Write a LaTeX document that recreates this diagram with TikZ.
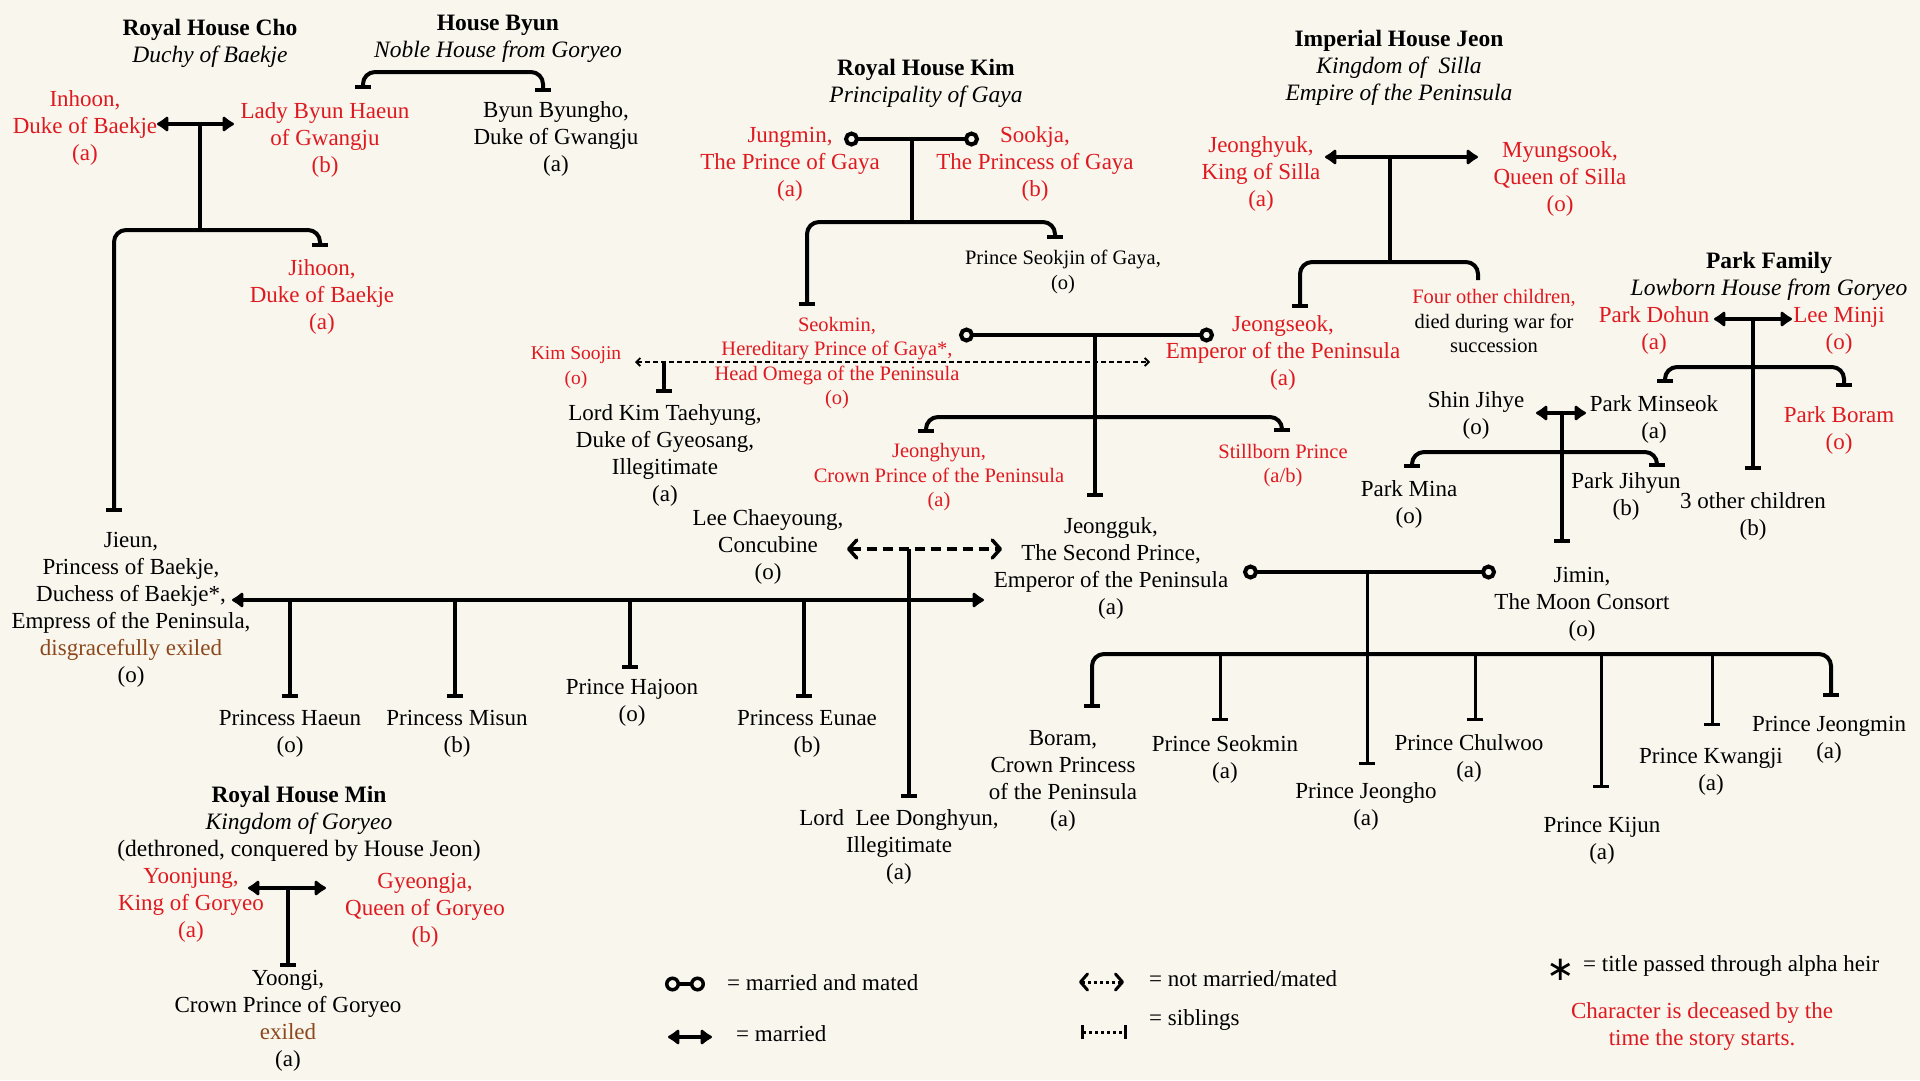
\documentclass[tikz,border=0pt]{standalone}
\usepackage{fontspec}
\setmainfont{Liberation Serif}
\newfontfamily\symfont{DejaVu Sans}
\usepackage{xcolor}
\usetikzlibrary{arrows.meta}

\definecolor{paper}{RGB}{249,246,238}
\definecolor{deadred}{RGB}{222,26,32}
\definecolor{exile}{RGB}{140,72,28}

\tikzset{
	link/.style={line width=4pt, rounded corners=12pt},
	child/.style={link, -{Bar[width=16pt]}},
	kids/.style={link, {Bar[width=16pt]}-{Bar[width=16pt]}},
	married/.style={link, {Latex[round,length=13pt,width=19pt]}-{Latex[round,length=13pt,width=19pt]}},
	mated/.style={link, {Circle[open,length=15pt,width=15pt,fill=paper]}-{Circle[open,length=15pt,width=15pt,fill=paper]}},
	affair/.style={line width=3.5pt, dash pattern=on 10pt off 6pt, {Straight Barb[round,length=8pt,width=18pt]}-{Straight Barb[round,length=8pt,width=18pt]}},
	rumour/.style={line width=1.8pt, dash pattern=on 5pt off 3pt, {Straight Barb[length=4pt,width=8pt]}-{Straight Barb[length=4pt,width=8pt]}},
	person/.style={align=center, inner sep=0pt, font=\fontsize{23}{27}\selectfont},
	dead/.style={person, text=deadred},
	small/.style={font=\fontsize{20.5}{24.5}\selectfont},
	house/.style={align=center, inner sep=0pt, font=\fontsize{23.5}{27}\selectfont},
	note/.style={anchor=west, inner sep=0pt, font=\fontsize{23}{27}\selectfont}
}

\begin{document}
\begin{tikzpicture}[x=1pt, y=-1pt] % family tree of the houses
	
	\useasboundingbox (0,0) rectangle (1920,1080);
	\fill[paper] (0,0) rectangle (1920,1080);
	
	%houses
	\node[house] (hCho) at (210,43.5) {\textbf{Royal House Cho}\\\textit{Duchy of Baekje}};
	\node[house] (hByun) at (498,38.5) {\textbf{House Byun}\\\textit{Noble House from Goryeo}};
	\node[house] (hKim) at (926,83.5) {\textbf{Royal House Kim}\\\textit{Principality of Gaya}};
	\node[house] (hJeon) at (1399,68) {\textbf{Imperial House Jeon}\\\textit{Kingdom of\ \ Silla}\\\textit{Empire of the Peninsula}};
	\node[house] (hPark) at (1769,276) {\textbf{Park Family}\\\textit{Lowborn House from Goryeo}};
	\node[house] (hMin) at (299,823.5) {\textbf{Royal House Min}\\\textit{Kingdom of Goryeo}\\(dethroned, conquered by House Jeon)};
	
	%people
	\node[dead] (inhoon) at (85,127.5) {Inhoon,\\Duke of Baekje\\(a)};
	\node[dead] (haeun) at (325,139.5) {Lady Byun Haeun\\of Gwangju\\(b)};
	\node[person] (byungho) at (556,138.5) {Byun Byungho,\\Duke of Gwangju\\(a)};
	\node[dead] (jihoon) at (322,296.5) {Jihoon,\\Duke of Baekje\\(a)};
	\node[person] (jieun) at (131,610) {Jieun,\\Princess of Baekje,\\Duchess of Baekje*,\\Empress of the Peninsula,\\{\color{exile}disgracefully exiled}\\(o)};
	
	\node[dead] (jungmin) at (790,164) {Jungmin,\\The Prince of Gaya\\(a)};
	\node[dead] (sookja) at (1035,163.5) {Sookja,\\The Princess of Gaya\\(b)};
	\node[person, small] (seokjin) at (1063,272) {Prince Seokjin of Gaya,\\(o)};
	\node[dead, small] (seokmin) at (837,363) {Seokmin,\\Hereditary Prince of Gaya*,\\Head Omega of the Peninsula\\(o)};
	
	\node[dead] (jeonghyuk) at (1261,173.5) {Jeonghyuk,\\King of Silla\\(a)};
	\node[dead] (myungsook) at (1560,179) {Myungsook,\\Queen of Silla\\(o)};
	\node[person, small] (fourother) at (1494,321) {{\color{deadred}Four other children,}\\died during war for\\succession};
	\node[dead] (jeongseok) at (1283,353) {Jeongseok,\\Emperor of the Peninsula\\(a)};
	
	\node[dead, font=\fontsize{19.5}{25}\selectfont] (soojin) at (576,367.5) {Kim Soojin\\(o)};
	\node[person] (taehyung) at (665,455) {Lord Kim Taehyung,\\Duke of Gyeosang,\\Illegitimate\\(a)};
	\node[dead, small] (jeonghyun) at (939,477.5) {Jeonghyun,\\Crown Prince of the Peninsula\\(a)};
	\node[dead, small] (stillborn) at (1283,465.5) {Stillborn Prince\\(a/b)};
	\node[person] (chaeyoung) at (768,547) {Lee Chaeyoung,\\Concubine\\(o)};
	\node[person] (jeongguk) at (1111,568) {Jeongguk,\\The Second Prince,\\Emperor of the Peninsula\\(a)};
	
	\node[person] (haeunP) at (290,734) {Princess Haeun\\(o)};
	\node[person] (misun) at (457,734) {Princess Misun\\(b)};
	\node[person] (hajoon) at (632,703) {Prince Hajoon\\(o)};
	\node[person] (eunae) at (807,734) {Princess Eunae\\(b)};
	\node[person] (donghyun) at (899,846.5) {Lord\ \ Lee Donghyun,\\Illegitimate\\(a)};
	
	\node[dead] (dohun) at (1654,330.5) {Park Dohun\\(a)};
	\node[dead] (minji) at (1839,330.5) {Lee Minji\\(o)};
	\node[person] (minseok) at (1654,419) {Park Minseok\\(a)};
	\node[dead] (boram) at (1839,430) {Park Boram\\(o)};
	\node[person] (others) at (1753,516) {3 other children\\(b)};
	\node[person] (jihye) at (1476,415) {Shin Jihye\\(o)};
	\node[person] (mina) at (1409,504.5) {Park Mina\\(o)};
	\node[person] (jihyun) at (1626,496) {Park Jihyun\\(b)};
	\node[person] (jimin) at (1582,604.5) {Jimin,\\The Moon Consort\\(o)};
	
	\node[person] (boramP) at (1063,781) {Boram,\\Crown Princess\\of the Peninsula\\(a)};
	\node[person] (seokminP) at (1225,759) {Prince Seokmin\\(a)};
	\node[person] (jeongho) at (1366,806) {Prince Jeongho\\(a)};
	\node[person] (chulwoo) at (1469,758) {Prince Chulwoo\\(a)};
	\node[person] (kijun) at (1602,840.5) {Prince Kijun\\(a)};
	\node[person] (kwangji) at (1711,772) {Prince Kwangji\\(a)};
	\node[person] (jeongmin) at (1829,739.5) {Prince Jeongmin\\(a)};
	
	\node[dead] (yoonjung) at (191,905) {Yoonjung,\\King of Goryeo\\(a)};
	\node[dead] (gyeongja) at (425,910.5) {Gyeongja,\\Queen of Goryeo\\(b)};
	\node[person] (yoongi) at (288,1021) {Yoongi,\\Crown Prince of Goryeo\\{\color{exile}exiled}\\(a)};
	
	%connector points
	\coordinate (inhoonR) at (157,124);
	\coordinate (haeunL) at (234,124);
	\coordinate (choM) at (200,124);
	\coordinate (choK) at (200,230);
	\coordinate (tjieun) at (114,512);
	\coordinate (tjihoon) at (320,247);
	
	\coordinate (thaeun) at (363,89);
	\coordinate (tbyungho) at (543,92);
	
	\coordinate (jungminR) at (844,139);
	\coordinate (sookjaL) at (979,139);
	\coordinate (gayaM) at (912,139);
	\coordinate (gayaK) at (912,222);
	\coordinate (tseokmin) at (807,306);
	\coordinate (tseokjin) at (1055,239);
	
	\coordinate (jeonghyukR) at (1325,157);
	\coordinate (myungsookL) at (1478,157);
	\coordinate (sillaM) at (1390,157);
	\coordinate (sillaK) at (1390,262);
	\coordinate (tjeongseok) at (1300,308);
	\coordinate (tfour) at (1478,280);
	
	\coordinate (seokminR) at (959,335);
	\coordinate (jeongseokL) at (1214,335);
	\coordinate (empM) at (1095,335);
	\coordinate (empK) at (1095,417);
	\coordinate (tjeongguk) at (1095,497);
	\coordinate (tjeonghyun) at (926,433);
	\coordinate (tstillborn) at (1282,432);
	
	\coordinate (soojinR) at (635,362);
	\coordinate (jeongseokW) at (1150,362);
	\coordinate (soojinM) at (664,362);
	\coordinate (ttaehyung) at (664,393);
	
	\coordinate (jieunR) at (232,600);
	\coordinate (jeonggukL) at (984,600);
	
	\coordinate (chaeyoungR) at (847,549);
	\coordinate (jeonggukW) at (1002,549);
	\coordinate (chaeM) at (909,549);
	\coordinate (tdonghyun) at (909,798);
	
	\coordinate (jeonggukR) at (1243,572);
	\coordinate (jiminL) at (1496,572);
	\coordinate (moonM) at (1367,572);
	\coordinate (moonK) at (1367,654);
	\coordinate (tjeongho) at (1367,765);
	\coordinate (tboramP) at (1092,708);
	\coordinate (tjeongmin) at (1831,697);
	
	\coordinate (dohunR) at (1714,319);
	\coordinate (minjiL) at (1792,319);
	\coordinate (parkM) at (1753,319);
	\coordinate (parkK) at (1753,367);
	\coordinate (tothers) at (1753,470);
	\coordinate (tminseok) at (1665,383);
	\coordinate (tboram) at (1844,387);
	
	\coordinate (jihyeR) at (1536,413);
	\coordinate (minseokL) at (1586,413);
	\coordinate (shinM) at (1562,413);
	\coordinate (shinK) at (1562,452);
	\coordinate (tjimin) at (1562,543);
	\coordinate (tmina) at (1412,468);
	\coordinate (tjihyun) at (1657,467);
	
	\coordinate (yoonjungR) at (248,888);
	\coordinate (gyeongjaL) at (326,888);
	\coordinate (minM) at (288,888);
	\coordinate (tyoongi) at (288,967);
	
	%connectors
	\draw[married] (inhoonR) -- (haeunL);
	\draw[link] (choM) -- (choK);
	\draw[kids] (tjieun) |- (choK) -| (tjihoon);
	
	\draw[kids] (thaeun) -- ++(0,-17) -| (tbyungho);
	
	\draw[mated] (jungminR) -- (sookjaL);
	\draw[link] (gayaM) -- (gayaK);
	\draw[kids] (tseokmin) |- (gayaK) -| (tseokjin);
	
	\draw[married] (jeonghyukR) -- (myungsookL);
	\draw[link] (sillaM) -- (sillaK);
	\draw[link, {Bar[width=16pt]}-] (tjeongseok) |- (sillaK) -| (tfour);
	
	\draw[mated] (seokminR) -- (jeongseokL);
	\draw[child] (empM) -- (tjeongguk);
	\draw[kids] (tjeonghyun) |- (empK) -| (tstillborn);
	
	\draw[rumour] (soojinR) -- (jeongseokW);
	\draw[child] (soojinM) -- (ttaehyung);
	
	\draw[married] (jieunR) -- (jeonggukL);
	\foreach \n/\x/\y in {haeunP/290/698, misun/455/698, hajoon/630/669, eunae/804/698}{
		\coordinate (t\n) at (\x,\y);
		\draw[child] (jieunR -| t\n) -- (t\n);
	}
	
	\draw[affair] (chaeyoungR) -- (jeonggukW);
	\draw[child] (chaeM) -- (tdonghyun);
	
	\draw[mated] (jeonggukR) -- (jiminL);
	\draw[child, line width=3pt] (moonM) -- (tjeongho);
	\draw[kids] (tboramP) |- (moonK) -| (tjeongmin);
	\foreach \n/\x/\y in {seokminP/1220/721, chulwoo/1475/721, kijun/1601/788, kwangji/1712/726}{
		\coordinate (t\n) at (\x,\y);
		\draw[child, line width=3pt] (moonK -| t\n) -- (t\n);
	}
	
	\draw[married] (dohunR) -- (minjiL);
	\draw[child] (parkM) -- (tothers);
	\draw[kids] (tminseok) |- (parkK) -| (tboram);
	
	\draw[married] (jihyeR) -- (minseokL);
	\draw[child] (shinM) -- (tjimin);
	\draw[kids] (tmina) |- (shinK) -| (tjihyun);
	
	\draw[married] (yoonjungR) -- (gyeongjaL);
	\draw[child] (minM) -- (tyoongi);
	
	%legend
	\coordinate (lgA1) at (665,984); \coordinate (lgA2) at (705,984);
	\coordinate (lgB1) at (668,1037); \coordinate (lgB2) at (712,1037);
	\coordinate (lgC1) at (1079,982); \coordinate (lgC2) at (1124,982);
	\coordinate (lgD1) at (1081,1032); \coordinate (lgD2) at (1127,1032);
	\draw[line width=3.5pt, {Circle[open,length=15pt,width=15pt,fill=paper]}-{Circle[open,length=15pt,width=15pt,fill=paper]}] (lgA1) -- (lgA2);
	\draw[married] (lgB1) -- (lgB2);
	\draw[line width=3pt, dash pattern=on 3pt off 3pt, {Straight Barb[round,length=7pt,width=16pt]}-{Straight Barb[round,length=7pt,width=16pt]}] (lgC1) -- (lgC2);
	\draw[line width=3pt, dash pattern=on 3pt off 3pt, {Bar[width=14pt]}-{Bar[width=14pt]}] (lgD1) -- (lgD2);
	
	\node[note] (lgAt) at (727,983) {= married and mated};
	\node[note] (lgBt) at (736,1034) {= married};
	\node[note] (lgCt) at (1149,979) {= not married/mated};
	\node[note] (lgDt) at (1149,1020) {= siblings};
	\node[inner sep=0pt, font=\fontsize{34}{34}\symfont] (ast) at (1561,970) {∗};
	\node[note] (astt) at (1583,966) {= title passed through alpha heir};
	\node[dead] (deceased) at (1702,1026) {Character is deceased by the\\time the story starts.};
	
\end{tikzpicture}
\end{document}
